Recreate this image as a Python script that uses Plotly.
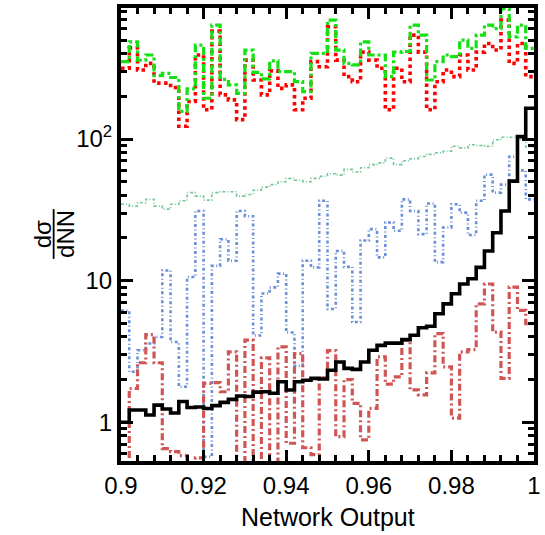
import numpy as np
import plotly.graph_objects as go

# bin edges: 50 bins of width 0.002 between 0.9 and 1.0
edges = [round(0.9 + 0.002 * i, 4) for i in range(51)]

black = [1.0, 1.22, 1.22, 1.125, 1.32, 1.24, 1.16, 1.40, 1.27, 1.28, 1.25, 1.31, 1.38, 1.45, 1.53, 1.52,
         1.63, 1.64, 1.60, 1.93, 1.69, 1.93, 1.98, 2.04, 2.02, 2.33, 2.66, 2.40, 2.36, 2.66,
         3.22, 3.49, 3.62, 3.62, 3.83, 4.11, 4.65, 4.76, 5.83, 6.85, 8.07, 9.46, 10.3, 12.4,
         16.2, 21.8, 31.0, 50.4, 104, 165]

indianred = [0.5, 1.73, 2.63, 4.15, 2.63, 0.65, 0.62, 0.58, 0.5, 0.56, 1.88, 1.9, 1.64, 3.14, 0.5,
             3.8, 0.5, 2.85, 0.5, 3.40, 0.71, 3.05, 0.66, 0.59, 2.06, 3.2, 0.79, 2.0, 1.36, 0.75,
             1.25, 2.89, 1.86, 2.09, 3.79, 1.69, 1.56, 2.23, 4.22, 2.46, 1.07, 3.14, 3.26, 6.85,
             9.46, 4.33, 2.04, 9.0, 6.16, 4.96]

blue = [6.15, 2.27, 3.22, 3.6, 4.0, 11.8, 3.68, 1.78, 10.6, 31, 0.57, 12.7, 19.6, 13.8, 31, 28.5,
        4.1, 8.1, 8.96, 11.2, 4.3, 2.5, 13.8, 12.4, 36.6, 6.3, 16.2, 12.5, 5.1, 19.2, 23.1, 14.6,
        25.7, 22.5, 37.5, 31, 21.3, 35, 13.5, 23.7, 34.6, 30.2, 21, 36.6, 56, 41.8, 47.6, 75, 60,
        37.5]

teal = [34.6, 33.6, 35.5, 37.5, 33.6, 32.0, 34.6, 36.6, 41.8, 39.5, 37.0, 41.8, 42.4, 42.4, 39.5,
        40.6, 43.5, 45.7, 47.6, 49.9, 52.7, 51.1, 49.9, 52.7, 54.5, 56.8, 55.6, 61, 58.5, 62.7,
        65.9, 67.8, 73.3, 65.9, 70.2, 72.6, 75.3, 77.9, 80, 82, 88.8, 86.6, 91, 90, 88.8, 98.8,
        103, 103, 98.8, 88]

green = [352, 486, 360, 392, 280, 291, 272, 157, 226, 460, 194, 637, 264, 241, 210, 425, 296, 266,
         356, 299, 299, 254, 216, 402, 402, 691, 425, 342, 334, 486, 392, 392, 276, 411, 415, 637,
         542, 261, 352, 392, 382, 500, 437, 542, 637, 602, 833, 527, 637, 437]

red = [316, 440, 307, 342, 248, 248, 231, 123, 184, 392, 161, 578, 205, 189, 137, 361, 261, 205,
       303, 228, 241, 161, 194, 352, 324, 620, 361, 276, 254, 411, 361, 316, 161, 316, 254, 542,
       411, 161, 254, 307, 276, 392, 307, 411, 473, 425, 691, 342, 473, 276]

x_major = [0.9, 0.92, 0.94, 0.96, 0.98, 1.0]
x_labels = ["0.9", "0.92", "0.94", "0.96", "0.98", "1"]
y_major = [1, 10, 100]
y_labels = ["1", "10", "10<sup>2</sup>"]

x_minor = [round(0.9 + 0.004 * i, 4) for i in range(26)]
y_minor = [m * d for d in (0.1, 1, 10, 100) for m in range(2, 10)]


def step(vals):
    return list(vals) + [vals[-1]]


fig = go.Figure()
series = [
    (teal, "#74c697", 1.6, "3px,2px,1px,2px"),
    (blue, "#6b8fd6", 2.6, "3px,2.5px,1px,2.5px"),
    (indianred, "#d05555", 3.2, "7px,3px,2px,3px"),
    (red, "#ff0000", 3.6, "3.5px,3.5px"),
    (green, "#14e014", 3.2, "8px,3px,3px,3px"),
    (black, "#000000", 3.6, "solid"),
]
for vals, col, w, dash in series:
    fig.add_trace(go.Scatter(x=edges, y=step(vals), mode="lines",
                             line=dict(color=col, width=w, dash=dash, shape="hv"),
                             showlegend=False, hoverinfo="skip"))

font = dict(family="Liberation Sans, Arial, sans-serif", size=24, color="black")
title_font = dict(family="Liberation Sans, Arial, sans-serif", size=25, color="black")

fig.update_layout(
    width=545, height=535,
    margin=dict(l=121, r=4, t=6, b=74),
    paper_bgcolor="white", plot_bgcolor="white",
    font=font,
    showlegend=False,
)
fig.update_xaxes(
    range=[0.9, 1.0], tickmode="array", tickvals=x_major, ticktext=x_labels,
    ticks="inside", ticklen=11, tickwidth=3, tickcolor="black",
    showline=True, linewidth=4, linecolor="black", mirror="ticks",
    showgrid=False, zeroline=False, tickfont=font,
    minor=dict(tickmode="array", tickvals=x_minor, ticks="inside", ticklen=6, tickwidth=3,
               tickcolor="black", showgrid=False),
)
fig.update_yaxes(
    type="log", range=[np.log10(0.532), np.log10(842)], tickmode="array",
    tickvals=y_major, ticktext=y_labels,
    ticks="inside", ticklen=12, tickwidth=3, tickcolor="black",
    showline=True, linewidth=4, linecolor="black", mirror="ticks",
    showgrid=False, zeroline=False, tickfont=font,
    minor=dict(tickmode="array", tickvals=y_minor, ticks="inside", ticklen=6, tickwidth=3,
               tickcolor="black", showgrid=False),
)

def px_x(px):
    return (px - 121) / 420.0

def px_y(py):
    return (461 - py) / 455.0

fig.add_annotation(text="Network Output", xref="paper", yref="paper",
                   x=px_x(331), y=px_y(517), xanchor="center", yanchor="middle",
                   showarrow=False, font=title_font)
fig.add_annotation(text="dσ", xref="paper", yref="paper", x=px_x(41), y=px_y(233),
                   xanchor="center", yanchor="middle", textangle=-90, showarrow=False,
                   font=font)
fig.add_annotation(text="dNN", xref="paper", yref="paper", x=px_x(64), y=px_y(233),
                   xanchor="center", yanchor="middle", textangle=-90, showarrow=False,
                   font=font)
fig.add_shape(type="line", xref="paper", yref="paper", x0=px_x(52.5), x1=px_x(52.5),
              y0=px_y(208), y1=px_y(258), line=dict(color="black", width=1.8))

fig.write_html("out.html")
